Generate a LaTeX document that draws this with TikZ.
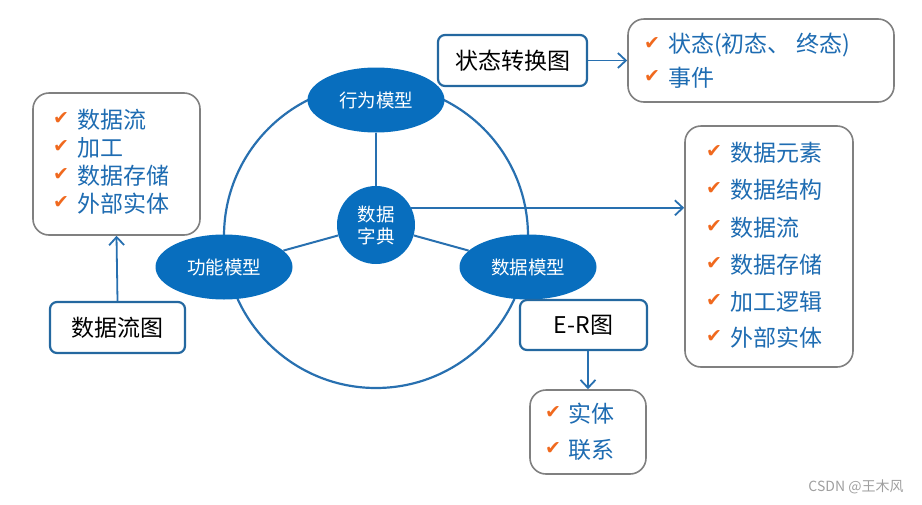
\documentclass[tikz,border=0pt]{standalone}
\usepackage{fontspec}
\setmainfont{Noto Sans CJK SC}
\newfontfamily\symbfont{DejaVu Sans}
\usetikzlibrary{shapes.geometric,arrows.meta}
\definecolor{modelblue}{RGB}{8,110,190}
\definecolor{linkblue}{RGB}{40,112,176}
\definecolor{boxblue}{RGB}{36,104,160}
\definecolor{itemblue}{RGB}{30,108,178}
\definecolor{checkorange}{RGB}{240,105,30}
\definecolor{boxgray}{RGB}{128,128,128}
\begin{document}
\begin{tikzpicture}[x=1pt,y=-1pt,
  model/.style={ellipse, fill=modelblue, text=white, inner sep=0pt,
    minimum width=137pt, minimum height=65pt, font=\fontsize{18.5}{21}\selectfont},
  dictnode/.style={circle, fill=modelblue, text=white, inner sep=0pt,
    minimum size=78pt, align=center, font=\fontsize{18.5}{22}\selectfont},
  diagbox/.style={draw=boxblue, line width=2.2pt, rounded corners=7pt, fill=white,
    text=black, inner sep=0pt, font=\fontsize{23}{26}\selectfont},
  listbox/.style={draw=boxgray, line width=1.6pt, rounded corners=16pt, fill=white, inner sep=0pt},
  item/.style={anchor=west, text=itemblue, inner sep=0pt, font=\fontsize{23}{25}\selectfont},
  tick/.style={text=checkorange, inner sep=0pt, font=\symbfont\fontsize{19}{19}\selectfont},
  link/.style={draw=linkblue, line width=2pt},
  arrow/.style={draw=linkblue, line width=1.8pt, -{Straight Barb[length=8pt,width=15pt,line width=1.8pt]}}
]
\useasboundingbox (0,0) rectangle (922,504);

% big circle
\draw[link, line width=2.2pt] (376,236) circle[radius=152];

% models
\node[model] (beh) at (376,100) {行为模型};
\node[model] (func) at (224,267) {功能模型};
\node[model] (dat) at (528,267) {数据模型};
\node[dictnode] (dict) at (376,225) {数据\\字典};

\draw[link] (beh) -- (dict);
\draw[link] (dict) -- (func);
\draw[link] (dict) -- (dat);

% boxes
\node[diagbox, minimum width=149pt, minimum height=51pt] (stbox) at (512.5,60.5) {状态转换图};
\node[diagbox, minimum width=135pt, minimum height=51pt] (dfd) at (117.5,327.5) {数据流图};
\node[diagbox, minimum width=127pt, minimum height=50pt] (er) at (583.5,325) {E-R图};

% lists
\node[listbox, minimum width=266pt, minimum height=83pt] (stlist) at (761,60.5) {};
\node[tick] (st1c) at (652,44) {✔};
\node[item] (st1) at (668,45) {状态(初态、 终态)};
\node[tick] (st2c) at (652,77) {✔};
\node[item] (st2) at (668,78) {事件};

\node[listbox, minimum width=167pt, minimum height=142pt] (leftlist) at (116.5,164) {};
\node[tick] (l1c) at (61,119) {✔};
\node[item] (l1) at (77,120) {数据流};
\node[tick] (l2c) at (61,147) {✔};
\node[item] (l2) at (77,148) {加工};
\node[tick] (l3c) at (61,175) {✔};
\node[item] (l3) at (77,176) {数据存储};
\node[tick] (l4c) at (61,203) {✔};
\node[item] (l4) at (77,204) {外部实体};

\node[listbox, minimum width=168pt, minimum height=241pt] (dictlist) at (769,246.5) {};
\node[tick] (d1c) at (714,152) {✔};
\node[item] (d1) at (730,153) {数据元素};
\node[tick] (d2c) at (714,189) {✔};
\node[item] (d2) at (730,190) {数据结构};
\node[tick] (d3c) at (714,227) {✔};
\node[item] (d3) at (730,228) {数据流};
\node[tick] (d4c) at (714,264) {✔};
\node[item] (d4) at (730,265) {数据存储};
\node[tick] (d5c) at (714,301) {✔};
\node[item] (d5) at (730,302) {加工逻辑};
\node[tick] (d6c) at (714,337) {✔};
\node[item] (d6) at (730,338) {外部实体};

\node[listbox, minimum width=116pt, minimum height=84pt] (erlist) at (588,432) {};
\node[tick] (e1c) at (553,413) {✔};
\node[item] (e1) at (568,414) {实体};
\node[tick] (e2c) at (553,449) {✔};
\node[item] (e2) at (568,450) {联系};

% arrows
\draw[arrow] (stbox.east) -- (stlist.west);
\draw[arrow] (dfd.north) -- (leftlist.south);
\draw[arrow] (er.south -| erlist.north) -- (erlist.north);
\draw[arrow] (dict.26) -- (dict.26 -| dictlist.west);

% watermark
\node[text=gray!75, inner sep=0pt, font=\fontsize{14}{16}\selectfont] (wm) at (856,487) {CSDN @王木风};
\end{tikzpicture}
\end{document}
